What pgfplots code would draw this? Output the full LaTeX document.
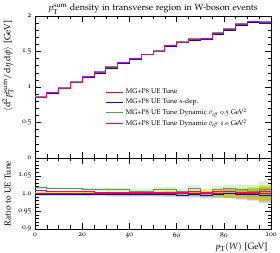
\documentclass[border=0pt]{standalone}
\usepackage[T1]{fontenc}
\usepackage[osf]{mathpazo}
\usepackage{pgfplots}
\pgfplotsset{compat=1.18}
\usepgfplotslibrary{fillbetween}
\usepackage{pgfplotstable}

\definecolor{rgreen}{rgb}{0.3,0.65,0.3}

\pgfplotstableread{
x red blue green mag
0 0.850 0.8475 0.8636 0.8568
5 0.915 0.9123 0.9287 0.9214
10 0.977 0.9741 0.9907 0.9829
15 1.062 1.0588 1.0758 1.0673
20 1.137 1.1336 1.1495 1.1427
25 1.200 1.1976 1.2132 1.2048
30 1.270 1.2662 1.2840 1.2751
35 1.336 1.3320 1.3507 1.3413
40 1.395 1.3908 1.4048 1.3992
45 1.455 1.4521 1.4652 1.4594
50 1.500 1.4955 1.5165 1.5060
55 1.575 1.5703 1.5923 1.5813
60 1.628 1.6215 1.6394 1.6329
65 1.658 1.6530 1.6829 1.6679
70 1.678 1.6696 1.6847 1.6814
75 1.750 1.7448 1.7693 1.7588
80 1.795 1.7932 1.8183 1.8058
85 1.877 1.8714 1.8995 1.8845
90 1.915 1.9093 1.9284 1.9207
95 1.900 1.8905 1.9228 1.9114
100 1.900 1.8905 1.9228 1.9114
}\maindata

\pgfplotstableread{
x r b g m e
0 1.000 0.997 1.016 1.008 0.003
5 1.000 0.997 1.015 1.007 0.003
10 1.000 0.997 1.014 1.006 0.003
15 1.000 0.997 1.013 1.005 0.003
20 1.000 0.997 1.011 1.005 0.004
25 1.000 0.998 1.011 1.004 0.004
30 1.000 0.997 1.011 1.004 0.005
35 1.000 0.997 1.011 1.004 0.005
40 1.000 0.997 1.007 1.003 0.006
45 1.000 0.998 1.007 1.003 0.006
50 1.000 0.997 1.011 1.004 0.006
55 1.000 0.997 1.011 1.004 0.007
60 1.000 0.996 1.007 1.003 0.007
65 1.000 0.997 1.015 1.006 0.008
70 1.000 0.995 1.004 1.002 0.009
75 1.000 0.997 1.011 1.005 0.010
80 1.000 0.999 1.013 1.006 0.012
85 1.000 0.997 1.012 1.004 0.014
90 1.000 0.997 1.007 1.003 0.017
95 1.000 0.995 1.012 1.006 0.022
100 1.000 0.995 1.012 1.006 0.022
}\ratiodata

\pgfplotsset{
  rivet/.style={
    scale only axis, width=236pt,
    xmin=0, xmax=100,
    tick align=inside, xtick pos=both, ytick pos=both,
    major tick length=6pt, minor tick length=3.5pt,
    axis line style={line width=0.5pt},
    every tick/.style={black, line width=0.4pt},
    tick label style={font=\fontsize{7.5}{8}\selectfont},
    /pgf/number format/assume math mode=true,
    xtick={0,20,40,60,80,100}, minor x tick num=3,
  },
}

\begin{document}
\begin{tikzpicture}
\begin{axis}[rivet, name=main,
  height=142pt,
  ymin=0, ymax=2,
  ytick={0,0.5,1,1.5,2}, yticklabels={0,0.5,1,1.5,2}, minor y tick num=4,
  xticklabels={},
  every axis title shift=0pt,
  title={$p_\mathrm{T}^\mathrm{sum}$ density in transverse region in W-boson events},
  title style={font=\fontsize{9}{10}\selectfont, at={(axis description cs:0.5,1)}, anchor=base, yshift=5pt, inner sep=0pt},
  ylabel={$\langle \mathrm{d}^2 p_\mathrm{T}^\mathrm{sum}/\mathrm{d}\eta\,\mathrm{d}\phi\rangle$ [GeV]},
  ylabel style={font=\fontsize{9}{10}\selectfont, at={(axis description cs:-0.115,0.99)}, anchor=east, rotate=0},
  legend style={draw=none, fill=none, at={(rel axis cs:0.30,0.5)}, anchor=north west,
    font=\fontsize{6.8}{8}\selectfont, row sep=-0.6pt, inner sep=0pt},
  legend cell align=left,
  every axis plot/.append style={line width=0.8pt},
]
\addplot[red, const plot] table[x=x, y=red] {\maindata};
\addlegendentry{MG+P8 UE Tune}
\addplot[blue, const plot] table[x=x, y=blue] {\maindata};
\addlegendentry{MG+P8 UE Tune x-dep.}
\addplot[rgreen, const plot] table[x=x, y=green] {\maindata};
\addlegendentry{MG+P8 UE Tune Dynamic $\sigma_\mathit{eff}$ 0.5 GeV$^2$}
\addplot[magenta, const plot] table[x=x, y=mag] {\maindata};
\addlegendentry{MG+P8 UE Tune Dynamic $\sigma_\mathit{eff}$ 1.0 GeV$^2$}
\end{axis}

\begin{axis}[rivet, at={(main.south west)}, anchor=north west,
  height=71pt,
  ymin=0.9, ymax=1.1,
  ytick={0.9,0.95,1.0,1.05,1.1}, yticklabels={0.9,0.95,1.0,1.05,}, minor y tick num=4,
  xticklabels={0,20,40,60,80,100},
  xlabel={$p_\mathrm{T}(W)$ [GeV]},
  xlabel style={font=\fontsize{9}{10}\selectfont, at={(axis description cs:1,-0.14)}, anchor=north east},
  ylabel={Ratio to UE Tune},
  ylabel style={font=\fontsize{8.5}{9}\selectfont, at={(axis description cs:-0.115,0.5)}, anchor=center},
  every axis plot/.append style={line width=0.8pt},
]
\addplot[name path=rhi, const plot, draw=none, forget plot] table[x=x, y expr=\thisrow{r}+\thisrow{e}] {\ratiodata};
\addplot[name path=rlo, const plot, draw=none, forget plot] table[x=x, y expr=\thisrow{r}-\thisrow{e}] {\ratiodata};
\addplot[fill=yellow, draw=none, forget plot] fill between[of=rhi and rlo];
\addplot[name path=bhi, const plot, draw=none, forget plot] table[x=x, y expr=\thisrow{b}+\thisrow{e}] {\ratiodata};
\addplot[name path=blo, const plot, draw=none, forget plot] table[x=x, y expr=\thisrow{b}-\thisrow{e}] {\ratiodata};
\addplot[fill=blue, fill opacity=0.2, draw=none, forget plot] fill between[of=bhi and blo];
\addplot[name path=ghi, const plot, draw=none, forget plot] table[x=x, y expr=\thisrow{g}+\thisrow{e}] {\ratiodata};
\addplot[name path=glo, const plot, draw=none, forget plot] table[x=x, y expr=\thisrow{g}-\thisrow{e}] {\ratiodata};
\addplot[fill=rgreen, fill opacity=0.2, draw=none, forget plot] fill between[of=ghi and glo];
\addplot[red, const plot] table[x=x, y=r] {\ratiodata};
\addplot[blue, const plot] table[x=x, y=b] {\ratiodata};
\addplot[rgreen, const plot] table[x=x, y=g] {\ratiodata};
\addplot[magenta, const plot] table[x=x, y=m] {\ratiodata};
\end{axis}
\pgfresetboundingbox
\path ([xshift=-35pt,yshift=16pt]main.north west) rectangle ([xshift=245pt,yshift=-237pt]main.north west);
\end{tikzpicture}
\end{document}
